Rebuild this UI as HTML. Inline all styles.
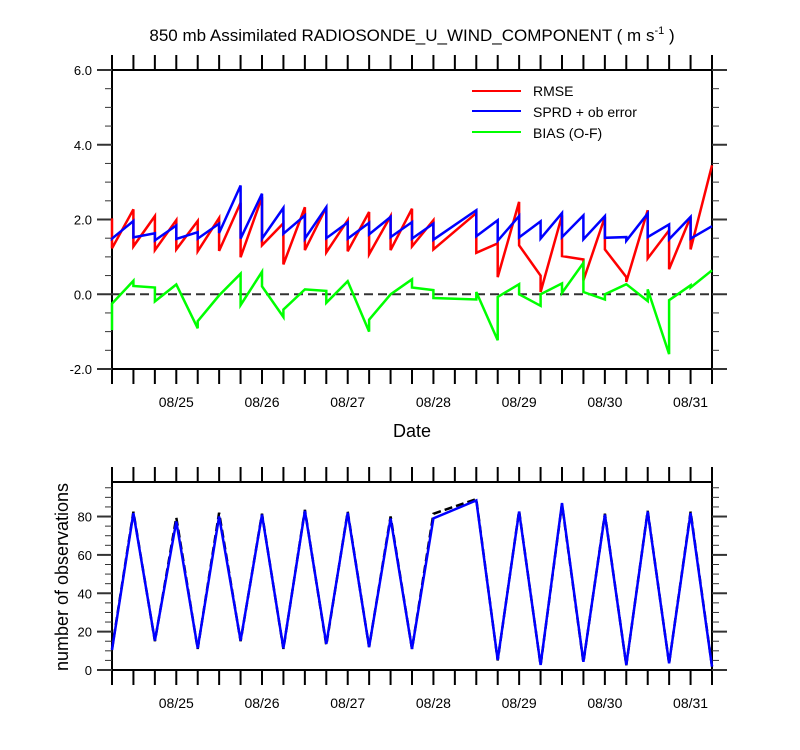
<!DOCTYPE html>
<html><head><meta charset="utf-8"><style>
html,body{margin:0;padding:0;background:#fff;}
svg{display:block;font-family:"Liberation Sans",Arial,sans-serif;}
</style></head><body>
<svg id="chart" width="800" height="750" viewBox="0 0 800 750">
<text x="412" y="41" text-anchor="middle" font-size="17">850 mb Assimilated RADIOSONDE_U_WIND_COMPONENT ( m s<tspan dy="-7" font-size="11">-1</tspan><tspan dy="7"> )</tspan></text>
<g id="top"></g>
<g id="bot"></g>
<g>
<line x1="472" y1="91" x2="521" y2="91" stroke="#ff0000" stroke-width="2"/>
<text x="533" y="96" font-size="14">RMSE</text>
<line x1="472" y1="111" x2="521" y2="111" stroke="#0000ff" stroke-width="2"/>
<text x="533" y="117" font-size="14">SPRD + ob error</text>
<line x1="472" y1="132" x2="521" y2="132" stroke="#00ff00" stroke-width="2"/>
<text x="533" y="138" font-size="14">BIAS (O-F)</text>
</g>
<text x="412" y="437" text-anchor="middle" font-size="18">Date</text>
<text transform="translate(68,577) rotate(-90)" text-anchor="middle" font-size="18">number of observations</text>
</svg>
<script>
// hours since 08/24 06Z
const times=[0,6,12,18,24,30,36,42,48,54,60,66,72,78,84,90,102,108,114,120,126,132,138,144,150,156,162,168];
const rmseEnd=[2.03,2.27,2.09,1.98,1.96,2.04,2.45,2.6,1.9,2.33,2.33,1.98,2.2,2.09,2.29,1.98,2.17,1.36,2.47,0.5,2.11,0.93,2.07,0.46,2.25,1.71,2.07,3.45];
const rmseStart=[1.23,1.28,1.18,1.2,1.15,1.16,0.99,1.31,0.8,1.18,1.12,1.15,1.07,1.18,1.28,1.2,1.11,0.46,1.31,0.06,1.02,0.37,1.2,0.33,0.96,0.67,1.2,3.45];
const sprdEnd=[1.5,1.96,1.63,1.84,1.66,1.89,2.91,2.69,2.31,2.11,2.33,1.92,1.91,2.07,1.93,1.89,2.25,1.98,2.09,1.95,2.17,2.11,2.09,1.53,2.16,1.87,2.07,1.82];
const sprdStart=[1.49,1.52,1.44,1.48,1.49,1.64,1.49,1.49,1.62,1.49,1.5,1.49,1.6,1.53,1.49,1.46,1.55,1.43,1.52,1.49,1.53,1.47,1.51,1.43,1.53,1.47,1.49,1.82];
const biasEnd=[-0.96,0.36,0.18,0.26,-0.91,-0.03,0.55,0.6,-0.61,0.13,0.09,0.35,-1.0,0.0,0.4,0.11,-0.14,-1.23,0.27,-0.31,0.29,0.84,-0.14,0.27,-0.18,-1.6,0.24,0.64];
const biasStart=[-0.25,0.22,-0.19,0.26,-0.72,-0.03,-0.29,0.21,-0.41,0.13,-0.23,0.35,-0.68,0.0,0.18,-0.1,0.06,-0.07,0.0,0.0,0.04,0.06,0.0,0.27,0.13,-0.16,0.18,0.64];
const obsUsed=[10.4,81.8,15.3,77.4,11.3,80,15.3,81,11.3,83,13.6,82,12,79,11,79,88.4,5.2,82.6,2.6,87,4.3,81,2.6,82.6,3.5,81.8,1.7];
const obsTotal=[11,82.5,15,79.5,11,82,15,81.5,11,83.5,13,82.5,12,80,11,81.4,89.1,5,83,2.5,86.5,4,81.5,2.5,83,3.5,82.5,2];
const dateLabels=["08/25","08/26","08/27","08/28","08/29","08/30","08/31"];
const dateHours=[18,42,66,90,114,138,162];
const topTicks=["-2.0","0.0","2.0","4.0","6.0"];
const topTickVals=[-2,0,2,4,6];
const botTicks=["0","20","40","60","80"];
const botTickVals=[0,20,40,60,80];

const NS="http://www.w3.org/2000/svg";
const X0=112,X1=712,H0=0,H1=168;
const xs=h=>X0+(h-H0)/(H1-H0)*(X1-X0);
const T={top:70,bot:369,min:-2,max:6};
const B={top:482,bot:670,min:0,max:98};
const yT=v=>T.bot-(v-T.min)/(T.max-T.min)*(T.bot-T.top);
const yB=v=>B.bot-(v-B.min)/(B.max-B.min)*(B.bot-B.top);
function mk(tag,attrs,parent){const e=document.createElementNS(NS,tag);for(const k in attrs)e.setAttribute(k,attrs[k]);parent.appendChild(e);return e;}
const gT=document.getElementById('top'),gB=document.getElementById('bot');

function frame(g,P,yf,vals,labels,minorStep,name){
  let r=mk('rect',{x:X0,y:P.top,width:X1-X0,height:P.bot-P.top,fill:'none',stroke:'#000','stroke-width':2},g);
  
  
  for(let h=0;h<=168;h+=6){
    let t1=mk('line',{x1:xs(h),x2:xs(h),y1:P.top,y2:P.top-15,stroke:'#000','stroke-width':2},g);
    
    
    let t2=mk('line',{x1:xs(h),x2:xs(h),y1:P.bot,y2:P.bot+15,stroke:'#000','stroke-width':2},g);
    
    
  }
  for(let v=P.min;v<=P.max+1e-9;v+=minorStep){
    const major=vals.some(m=>Math.abs(m-v)<1e-6);
    const L=major?15:7;
    let a=mk('line',{x1:X0,x2:X0-L,y1:yf(v),y2:yf(v),stroke:'#333','stroke-width':major?2:1},g);
    
    
    let b=mk('line',{x1:X1,x2:X1+L,y1:yf(v),y2:yf(v),stroke:'#333','stroke-width':major?2:1},g);
    
    
  }
  vals.forEach((v,i)=>{
    let t=mk('text',{x:X0-20,y:yf(v)+5,'text-anchor':'end','font-size':13},g);
    t.textContent=labels[i];
    
    
  });
  dateHours.forEach((h,i)=>{
    let t=mk('text',{x:xs(h),y:P.bot+38,'text-anchor':'middle','font-size':14},g);
    t.textContent=dateLabels[i];
    
    
  });
}
frame(gT,T,yT,topTickVals,topTicks,0.5,'top');
frame(gB,B,yB,botTickVals,botTicks,5,'bottom');

let z=mk('line',{x1:X0,x2:X1,y1:yT(0),y2:yT(0),stroke:'#333','stroke-width':2,'stroke-dasharray':'9,5'},gT);



function saw(endA,startA,color,name){
  let d='';
  times.forEach((h,i)=>{
    d+=(i===0?'M':'L')+xs(h).toFixed(1)+','+yT(endA[i]).toFixed(1);
    d+='L'+xs(h).toFixed(1)+','+yT(startA[i]).toFixed(1);
  });
  let p=mk('path',{d:d,fill:'none',stroke:color,'stroke-width':2.5,'stroke-linejoin':'miter'},gT);
  
  
}
saw(rmseEnd,rmseStart,'#ff0000','rmse-line');
saw(sprdEnd,sprdStart,'#0000ff','sprd-line');
saw(biasEnd,biasStart,'#00ff00','bias-line');

function obs(arr,attrs,name){
  const d=times.map((h,i)=>(i?'L':'M')+xs(h).toFixed(1)+','+yB(arr[i]).toFixed(1)).join('');
  attrs.d=d;attrs.fill='none';
  let p=mk('path',attrs,gB);
  
  
}
obs(obsTotal,{stroke:'#000','stroke-width':2.5,'stroke-dasharray':'8,4'},'obs-total-line');
obs(obsUsed,{stroke:'#0000ff','stroke-width':2.5},'obs-used-line');
</script>
</body></html>
